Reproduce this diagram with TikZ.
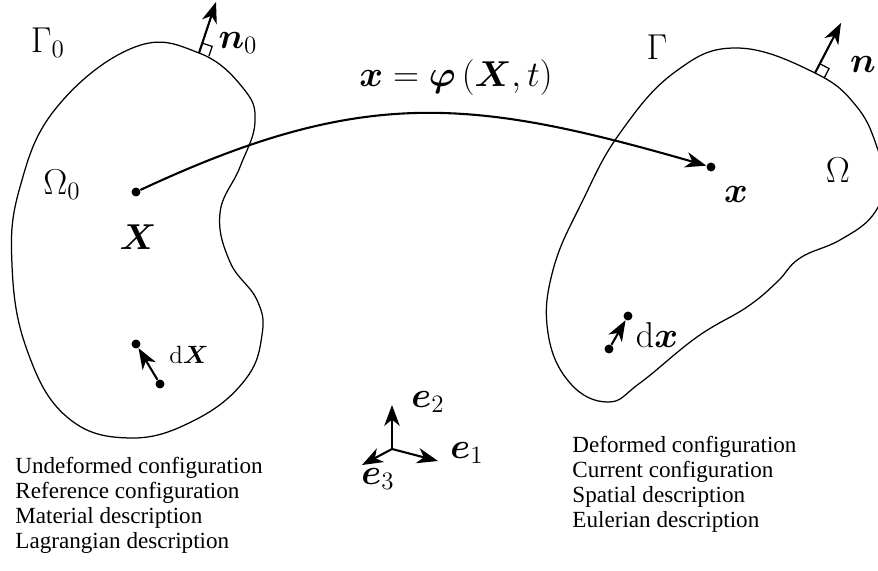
\documentclass[tikz,border=0pt]{standalone}
\usepackage{amsmath,bm}
\usepackage[no-math]{fontspec}
\newfontfamily\descfont{Liberation Serif}
\usetikzlibrary{arrows.meta,calc}

\begin{document}
\begin{tikzpicture}[x=0.48pt, y=-0.48pt,
  body/.style={line width=0.6pt},
  vec/.style={line width=1pt, -{Stealth[length=10pt,width=7.4pt,inset=3pt]}},
  lab/.style={font=\LARGE, inner sep=0pt},
  small/.style={font=\fontsize{13}{15}\selectfont, inner sep=0pt},
  desc/.style={font=\fontsize{11.1}{11.9}\selectfont\descfont, align=left,
               anchor=north west, inner sep=0pt},
  pt/.style={circle, fill, inner sep=0pt, minimum size=4.3pt},
  rmark/.style={line width=0.6pt}]
  \useasboundingbox (0,0) rectangle (878,571);
  % reference body, pixel coordinates, y downwards
  \coordinate (n0base) at (199,53);
  \coordinate (n0tip)  at (216,2);
  \draw[body] plot[smooth cycle, tension=0.7] coordinates {
    (135,47) (n0base) (243,88) (255,122) (240,167) (220,213) (230,262)
    (257,300) (262,335) (245,380) (195,420) (130,438) (67,417) (27,350)
    (12,265) (20,187) (57,107)};
  % current body, runs past the right edge
  \coordinate (nbase) at (815,73);
  \coordinate (ntip)  at (841,23);
  \begin{scope}
    \clip (0,0) rectangle (878,571);
    \draw[body] plot[smooth cycle, tension=0.7] coordinates {
      (737,48) (nbase) (857,107) (878,150) (884,182) (873,215) (840,240)
      (800,258) (777,282) (747,307) (697,337) (640,383) (608,402) (570,383)
      (548,333) (553,270) (583,200) (620,133) (675,72)};
  \end{scope}
  % normals with right-angle marks
  \draw[vec] (n0base) -- (n0tip);
  \coordinate (n0a) at ($(n0base)!5pt!(n0tip)$);
  \coordinate (n0b) at ($(n0base)!5pt!-90:(n0tip)$);
  \draw[rmark] (n0a) -- ($(n0a)+(n0b)-(n0base)$) -- (n0b);
  \draw[vec] (nbase) -- (ntip);
  \coordinate (na) at ($(nbase)!5pt!(ntip)$);
  \coordinate (nb) at ($(nbase)!5pt!-90:(ntip)$);
  \draw[rmark] (na) -- ($(na)+(nb)-(nbase)$) -- (nb);
  % points and mapping
  \node[pt] (X) at (136,192) {};
  \node[pt] (x) at (711,167) {};
  \draw[vec] (X) .. controls (363,86) and (471,98) .. (x);
  \node[pt] (dXa) at (160,384) {};
  \node[pt] (dXb) at (136,344) {};
  \draw[vec] (dXa) -- (dXb);
  \node[pt] (dxa) at (609,349) {};
  \node[pt] (dxb) at (628,316) {};
  \draw[vec] (dxa) -- (dxb);
  % labels
  \node[lab] (gam0) at (48,43)   {$\Gamma_0$};
  \node[lab] (n0)   at (238,43)  {$\bm{n}_0$};
  \node[lab] (om0)  at (62,185)  {$\Omega_0$};
  \node[lab] (Xlab) at (138,237) {$\bm{X}$};
  \node[small] (dX) at (189,355) {$\mathrm{d}\bm{X}$};
  \node[lab] (map)  at (456,78)  {$\bm{x}=\bm{\varphi}\left(\bm{X},t\right)$};
  \node[lab] (gam)  at (657,47)  {$\Gamma$};
  \node[lab] (n)    at (863,65)  {$\bm{n}$};
  \node[lab] (om)   at (838,170) {$\Omega$};
  \node[lab] (xlab) at (736,195) {$\bm{x}$};
  \node[lab] (dx)   at (657,335) {$\mathrm{d}\bm{x}$};
  % basis
  \coordinate (O) at (392,449);
  \node[lab] (e1) at (467,453) {$\bm{e}_1$};
  \node[lab] (e2) at (428,402) {$\bm{e}_2$};
  \node[lab] (e3) at (378,479) {$\bm{e}_3$};
  \coordinate (e1tip) at (438,461);
  \coordinate (e2tip) at (392,405);
  \coordinate (e3tip) at (362,465);
  \draw[vec] (O) -- (e1tip);
  \draw[vec] (O) -- (e2tip);
  \draw[vec] (O) -- (e3tip);
  % descriptions
  \node[desc] (refdesc) at (15,457) {Undeformed configuration\\ Reference configuration\\
    Material description\\ Lagrangian description};
  \node[desc] (curdesc) at (572,436) {Deformed configuration\\ Current configuration\\
    Spatial description\\ Eulerian description};
\end{tikzpicture}
\end{document}
